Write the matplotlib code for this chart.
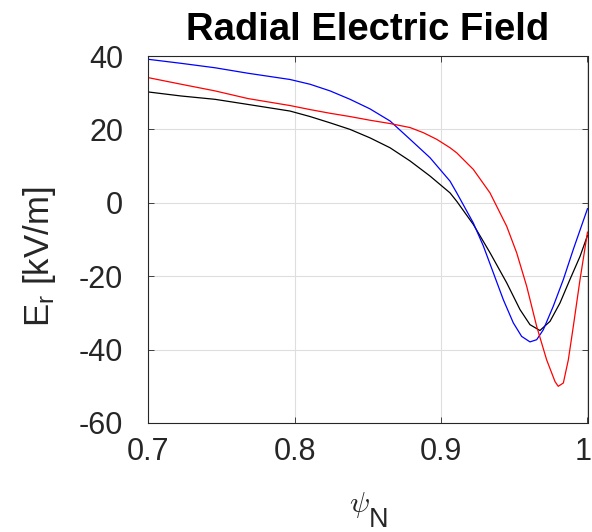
import numpy as np
import matplotlib
matplotlib.use("Agg")
from matplotlib import pyplot as plt
from matplotlib.transforms import ScaledTranslation

# ------------------------------ DATA ------------------------------
psi_blue = [0.7000, 0.7225, 0.7455, 0.7681, 0.7968, 0.8105, 0.8241, 0.8378, 0.8514, 0.8651,
            0.8788, 0.8924, 0.9061, 0.9107, 0.9220, 0.9289, 0.9357, 0.9425, 0.9493, 0.9550,
            0.9607, 0.9653, 0.9698, 0.9766, 0.9835, 0.9903, 1.0000]
er_blue = [39.1, 38.0, 36.8, 35.3, 33.6, 32.3, 30.5, 28.2, 25.6, 22.3,
           17.3, 12.3, 5.9, 2.7, -5.5, -11.8, -19.1, -26.4, -32.7, -36.4,
           -37.9, -37.3, -34.6, -28.2, -20.9, -12.7, -1.6]

psi_black = [0.7000, 0.7225, 0.7455, 0.7681, 0.7968, 0.8105, 0.8241, 0.8378, 0.8514, 0.8651,
             0.8788, 0.8924, 0.9061, 0.9107, 0.9220, 0.9334, 0.9448, 0.9539, 0.9607, 0.9675,
             0.9744, 0.9812, 0.9880, 0.9949, 1.0000]
er_black = [30.2, 29.1, 28.2, 26.8, 25.0, 23.5, 21.8, 20.0, 17.7, 15.0,
            11.4, 7.3, 2.7, 0.4, -5.9, -13.6, -21.8, -29.1, -33.2, -34.8,
            -32.3, -27.3, -20.9, -14.6, -8.9]

psi_red = [0.7000, 0.7225, 0.7455, 0.7681, 0.7968, 0.8105, 0.8241, 0.8378, 0.8514, 0.8651,
           0.8788, 0.8879, 0.8970, 0.9061, 0.9107, 0.9220, 0.9334, 0.9448, 0.9516, 0.9585,
           0.9653, 0.9721, 0.9778, 0.9800, 0.9835, 0.9869, 0.9903, 0.9949, 1.0000]
er_red = [34.1, 32.3, 30.5, 28.4, 26.5, 25.4, 24.4, 23.5, 22.5, 21.6,
          20.5, 19.1, 17.3, 15.0, 13.6, 9.1, 2.7, -6.4, -13.6, -22.8,
          -33.7, -42.8, -48.7, -50.0, -49.1, -42.8, -33.7, -20.9, -8.0]

x_ticks = [0.7, 0.8, 0.9, 1.0]
x_tick_labels = ["0.7", "0.8", "0.9", "1"]
y_ticks = [-60, -40, -20, 0, 20, 40]

# ------------------------------ STYLE ------------------------------
plt.rcParams['font.family'] = ['Liberation Sans', 'DejaVu Sans']
plt.rcParams['axes.unicode_minus'] = False
plt.rcParams['mathtext.fontset'] = 'custom'
plt.rcParams['mathtext.rm'] = 'Liberation Sans'
plt.rcParams['mathtext.it'] = 'Liberation Sans:italic'

fig = plt.figure(figsize=(5.92, 5.32), dpi=100)
# axes box in pixels: x 148.3..587.5, y 56..423
ax = fig.add_axes([148.3 / 592, 1 - 423 / 532, (587.5 - 148.3) / 592, (423 - 56) / 532])

ax.plot(psi_black, er_black, color="#000000", lw=0.9)
ax.plot(psi_blue, er_blue, color="#0000ff", lw=0.9)
ax.plot(psi_red, er_red, color="#ff0000", lw=0.9)

ax.set_xlim(0.7, 1.0)
ax.set_ylim(-60, 40)
ax.set_xticks(x_ticks)
ax.set_xticklabels(x_tick_labels)
ax.set_yticks(y_ticks)

ax.grid(True, color="#dedede", lw=0.8)
ax.set_axisbelow(True)
for sp in ax.spines.values():
    sp.set_color("#262626")
    sp.set_linewidth(0.8)
ax.tick_params(axis='both', direction='in', length=4, width=0.6, colors="#262626",
               labelcolor="#262626", labelsize=22, top=True, right=True)
ax.tick_params(axis='y', pad=18)
ax.tick_params(axis='x', pad=10)

# nudge the "1" label a little left so it stays inside the figure
last_lbl = ax.get_xticklabels()[-1]
last_lbl.set_transform(last_lbl.get_transform() + ScaledTranslation(-4 / 100, 0, fig.dpi_scale_trans))

# TITLE + LABELS
fig.text(368 / 592, 1 - 40 / 532, "Radial Electric Field", ha='center', va='baseline',
         fontsize=27.5, fontweight='bold')
fig.text(40 / 592, 1 - 256.5 / 532, r"E$_\mathrm{r}$ [kV/m]", rotation=90,
         ha='center', va='center', fontsize=25, color="#262626")
fig.text(370 / 592, 1 - 512.5 / 532, r"$\psi$", ha='right', va='baseline', fontsize=21.5,
         math_fontfamily='cm', color="#262626")
fig.text(368.5 / 592, 1 - 526.7 / 532, "N", ha='left', va='baseline', fontsize=19.5,
         color="#262626")

fig.savefig("out.png", dpi=100)
